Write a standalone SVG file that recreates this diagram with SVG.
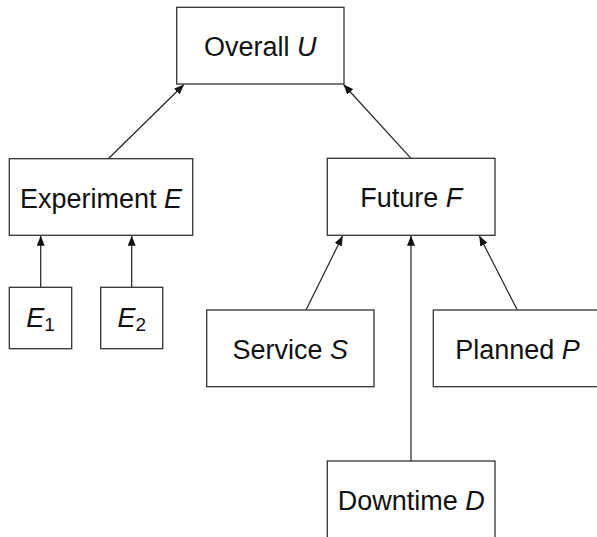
<svg xmlns="http://www.w3.org/2000/svg" width="597" height="537" viewBox="0 0 597 537">
  <style>
    .box { fill: #ffffff; stroke: #333333; stroke-width: 1.3; }
    .lbl { font-family: "Liberation Sans", Arial, sans-serif; font-size: 27px; fill: #111111; text-anchor: middle; }
    .it { font-style: italic; }
    .sub { font-size: 19px; }
    .edge { stroke: #222222; stroke-width: 1.2; fill: none; marker-end: url(#tip); }
  </style>
  <defs>
    <marker id="tip" markerUnits="userSpaceOnUse" viewBox="0 0 10 8" refX="10" refY="4" markerWidth="10" markerHeight="8" orient="auto">
      <path d="M0,0 L10,4 L0,8 z" fill="#111111"/>
    </marker>
  </defs>
  <rect width="597" height="537" fill="#ffffff"/>

  <!-- connectors: child to parent -->
  <g id="connectors">
    <line class="edge" x1="108.3" y1="158.7" x2="184" y2="84.5"/>
    <line class="edge" x1="411" y1="158.3" x2="343.5" y2="84.5"/>
    <line class="edge" x1="40.7" y1="287.3" x2="40.7" y2="235.8"/>
    <line class="edge" x1="131.7" y1="287.3" x2="131.7" y2="235.8"/>
    <line class="edge" x1="306" y1="310" x2="342.7" y2="235.8"/>
    <line class="edge" x1="411" y1="461" x2="411" y2="235.8"/>
    <line class="edge" x1="517.3" y1="310" x2="479.3" y2="235.8"/>
  </g>

  <g id="overall">
    <rect class="box" x="176.7" y="7.3" width="167.3" height="76.7"/>
    <text class="lbl" x="260.3" y="56.3">Overall <tspan class="it">U</tspan></text>
  </g>

  <g id="experiment">
    <rect class="box" x="9.3" y="158.7" width="183.4" height="76.6"/>
    <text class="lbl" x="101" y="207.5">Experiment <tspan class="it">E</tspan></text>
  </g>

  <g id="future">
    <rect class="box" x="327.3" y="158.3" width="167.7" height="77"/>
    <text class="lbl" x="411.2" y="207.3">Future <tspan class="it">F</tspan></text>
  </g>

  <g id="e1">
    <rect class="box" x="9.3" y="287.3" width="62.4" height="61.4"/>
    <text class="lbl" x="40.5" y="326.5"><tspan class="it">E</tspan><tspan class="sub" dy="4">1</tspan></text>
  </g>

  <g id="e2">
    <rect class="box" x="100.7" y="287.3" width="62" height="61.4"/>
    <text class="lbl" x="131.7" y="326.5"><tspan class="it">E</tspan><tspan class="sub" dy="4">2</tspan></text>
  </g>

  <g id="service">
    <rect class="box" x="206.7" y="310" width="167.3" height="76.7"/>
    <text class="lbl" x="290.3" y="358.8">Service <tspan class="it">S</tspan></text>
  </g>

  <g id="planned">
    <rect class="box" x="433.3" y="310" width="168" height="76.7"/>
    <text class="lbl" x="517.5" y="358.8">Planned <tspan class="it">P</tspan></text>
  </g>

  <g id="downtime">
    <rect class="box" x="327.3" y="461" width="167.7" height="77"/>
    <text class="lbl" x="411.2" y="510">Downtime <tspan class="it">D</tspan></text>
  </g>
</svg>
